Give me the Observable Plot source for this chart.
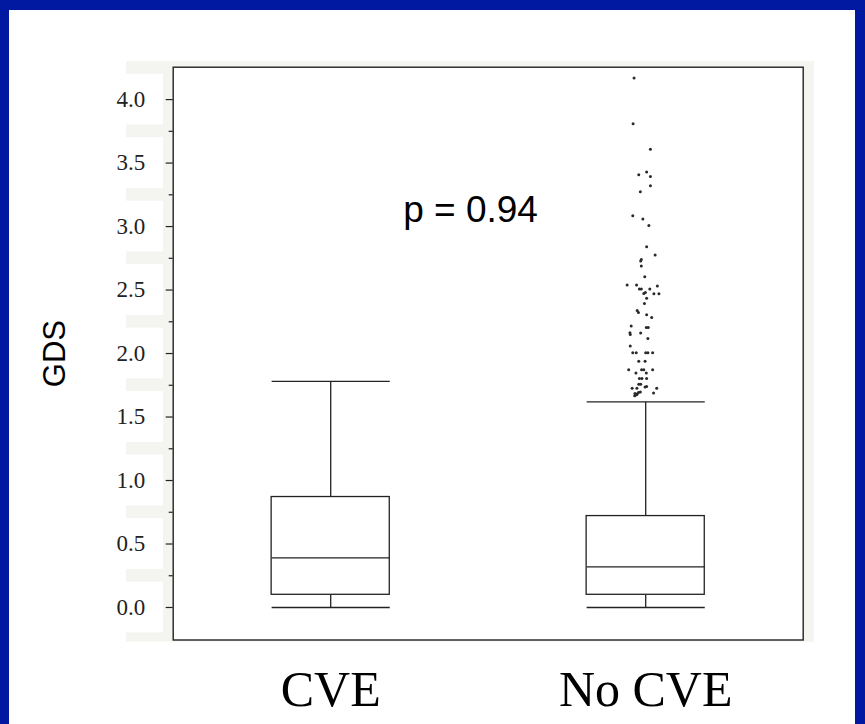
<!DOCTYPE html>
<html>
<head>
<meta charset="utf-8">
<script src="https://cdn.jsdelivr.net/npm/d3@7"></script>
<script src="https://cdn.jsdelivr.net/npm/@observablehq/plot@0.6"></script>
<style>
  html, body { margin: 0; padding: 0; }
  body { width: 865px; height: 724px; background: #0019a0; position: relative; overflow: hidden; }
  #panel { position: absolute; left: 9px; top: 10px; width: 846px; height: 714px; background: #ffffff; }
  #chart { position: absolute; left: 0; top: 0; }
</style>
</head>
<body>
<div id="panel"></div>
<div id="chart"></div>
<script>
// ---- data ----
const categories = ["CVE", "No CVE"];
const whiskerLow  = [0.00, 0.00];
const q1          = [0.10, 0.10];
const median      = [0.39, 0.32];
const q3          = [0.87, 0.72];
const whiskerHigh = [1.78, 1.62];

// outliers (No CVE group): values and horizontal jitter (category units)
const outlierGroup = "No CVE";
const outlierValues = [4.169, 3.809, 3.609, 3.429, 3.408, 3.395, 3.322, 3.274, 3.085, 3.059,
  3.008, 2.841, 2.776, 2.741, 2.729, 2.690, 2.605, 2.540, 2.540, 2.509,
  2.509, 2.509, 2.532, 2.480, 2.473, 2.471, 2.471, 2.435, 2.395, 2.339,
  2.324, 2.306, 2.283, 2.217, 2.206, 2.206, 2.164, 2.149, 2.161, 2.118,
  2.060, 2.006, 2.006, 2.006, 2.006, 2.006, 1.940, 1.940, 1.873, 1.873,
  1.873, 1.873, 1.846, 1.846, 1.804, 1.804, 1.804, 1.759, 1.759, 1.726,
  1.726, 1.736, 1.741, 1.726, 1.685, 1.682, 1.693, 1.698, 1.690, 1.668, 1.675];
const outlierJitter = [-0.037, -0.040, 0.015, 0.003, -0.022, 0.015, 0.015, -0.017, -0.041, -0.009,
  0.010, 0.003, 0.030, -0.014, -0.016, -0.014, -0.003, -0.059, -0.029, -0.020,
  -0.014, 0.013, 0.037, -0.001, -0.006, 0.026, 0.042, 0.003, -0.004, -0.027,
  -0.023, 0.003, 0.019, -0.046, 0.002, 0.008, -0.050, -0.049, -0.016, 0.007,
  -0.049, -0.041, -0.030, 0.000, 0.007, 0.022, -0.022, -0.002, -0.054, -0.013,
  -0.006, 0.022, -0.031, 0.002, -0.020, -0.012, 0.003, -0.022, -0.016, -0.043,
  -0.028, -0.002, 0.003, 0.035, -0.034, -0.027, -0.023, -0.017, 0.025, -0.035, -0.029];

const yTicks = [0, 0.5, 1.0, 1.5, 2.0, 2.5, 3.0, 3.5, 4.0];
const yMinorTicks = [0.25, 0.75, 1.25, 1.75, 2.25, 2.75, 3.25, 3.75];
const yLabel = "GDS";
const pLabel = "p = 0.94";

// ---- build tables ----
const BOX_HALF = 0.1875;          // half box width (category units)
const centerOf = c => categories.indexOf(c) + 0.5;
const boxes = categories.map((c, i) => ({
  c, x: i + 0.5, lo: whiskerLow[i], q1: q1[i], med: median[i], q3: q3[i], hi: whiskerHigh[i]
}));
const outliers = outlierValues.map((v, i) => ({x: centerOf(outlierGroup) + outlierJitter[i], y: v}));

const Y_DOMAIN = [-0.256, 4.255];
const X_DOMAIN = [0, 2];
// decorative light panel surrounding the frame (extends into margins)
const PANEL = {x1: -0.148, x2: 2.036, y1: -0.273, y2: 4.299};
const LABEL_BG = {x1: -0.148, x2: -0.031, half: 0.2};

const serif = "'Liberation Serif', 'Times New Roman', serif";
const sans = "'Liberation Sans', Arial, sans-serif";
const ink = "#222";

const chart = Plot.plot({
  width: 865,
  height: 724,
  marginLeft: 172.7,
  marginRight: 62.3,
  marginTop: 66.7,
  marginBottom: 84.5,
  style: {background: "transparent", overflow: "visible"},
  x: {type: "linear", domain: X_DOMAIN},
  y: {type: "linear", domain: Y_DOMAIN},
  marks: [
    // light panel behind the plot
    Plot.rect([PANEL], {x1: "x1", x2: "x2", y1: "y1", y2: "y2", fill: "#f4f4f0"}),
    Plot.frame({fill: "#ffffff", stroke: "none"}),
    Plot.rect(yTicks, {x1: LABEL_BG.x1, x2: LABEL_BG.x2, y1: d => d - LABEL_BG.half, y2: d => d + LABEL_BG.half, fill: "#ffffff"}),

    // y axis
    Plot.axisY({ticks: yTicks, tickSize: 7, tickPadding: 21, tickFormat: d3.format(".1f"),
      fontSize: 23, fontFamily: serif, color: ink, label: null, strokeWidth: 1.2}),
    Plot.axisY({ticks: yMinorTicks, tickSize: 4, tickFormat: () => "", label: null, color: ink, strokeWidth: 1.2}),
    // x axis labels
    Plot.axisX({ticks: boxes.map(b => b.x), tickSize: 0, tickPadding: 30,
      tickFormat: d => categories[Math.floor(d)], fontSize: 50, fontFamily: serif, color: "#000", label: null}),

    // whiskers
    Plot.link(boxes, {x1: "x", x2: "x", y1: "lo", y2: "q1", stroke: ink, strokeWidth: 1.3}),
    Plot.link(boxes, {x1: "x", x2: "x", y1: "q3", y2: "hi", stroke: ink, strokeWidth: 1.3}),
    Plot.link(boxes, {x1: d => d.x - BOX_HALF, x2: d => d.x + BOX_HALF, y1: "lo", y2: "lo", stroke: ink, strokeWidth: 1.3}),
    Plot.link(boxes, {x1: d => d.x - BOX_HALF, x2: d => d.x + BOX_HALF, y1: "hi", y2: "hi", stroke: ink, strokeWidth: 1.3}),
    // boxes
    Plot.rect(boxes, {x1: d => d.x - BOX_HALF, x2: d => d.x + BOX_HALF, y1: "q1", y2: "q3", fill: "none", stroke: ink, strokeWidth: 1.3}),
    Plot.link(boxes, {x1: d => d.x - BOX_HALF, x2: d => d.x + BOX_HALF, y1: "med", y2: "med", stroke: ink, strokeWidth: 1.3}),

    // outliers
    Plot.dot(outliers, {x: "x", y: "y", r: 1.5, fill: "#2a2a2a", stroke: "none"}),

    // frame
    Plot.frame({stroke: ink, strokeWidth: 1.4}),

    // annotations
    Plot.text([pLabel], {x: 0.944, y: 3.126, text: d => d, fontSize: 37, fontFamily: sans, fill: "#000"}),
    Plot.text([yLabel], {frameAnchor: "left", textAnchor: "middle", dx: -118, rotate: -90, text: d => d, fontSize: 31, fontFamily: sans, fill: "#000"})
  ]
});
document.getElementById("chart").appendChild(chart);
</script>
</body>
</html>
